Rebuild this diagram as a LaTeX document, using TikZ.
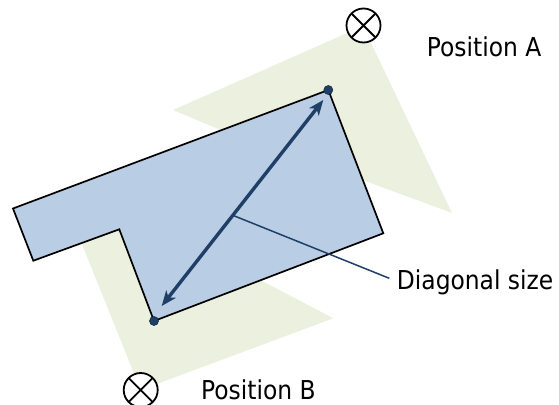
\documentclass[tikz,border=0pt]{standalone}
\usepackage{fontspec}
\setmainfont{DejaVu Sans Condensed}
\usepackage{xcolor}
\usetikzlibrary{arrows.meta}
\definecolor{roofblue}{HTML}{B9CDE5}
\definecolor{viewgreen}{HTML}{EBF1DE}
\definecolor{navy}{HTML}{1F3F66}

\begin{document}
\begin{tikzpicture}[
        x=1pt, y=-1pt,
        outline/.style={draw=black, line width=1.7pt, line join=miter},
        cone/.style={fill=viewgreen, draw=none},
        viewpoint/.style={circle, draw=black, fill=white, line width=1.8pt, minimum size=34pt, inner sep=0pt, outer sep=0pt},
        corner/.style={circle, fill=navy, draw=navy!70!black, line width=0.6pt, minimum size=9pt, inner sep=0pt},
        postext/.style={font=\fontsize{26}{30}\selectfont, inner sep=0pt},
        sizearrow/.style={navy, line width=3.4pt, {Stealth[length=15pt,width=12pt,inset=4pt]}-{Stealth[length=15pt,width=12pt,inset=4pt]}},
    ]
        \useasboundingbox (0,0) rectangle (559,404);

        % Viewing cones
        \fill[cone] (363,26) -- (452,213) -- (300,157) -- (260,146.5) -- (173,110) -- cycle;
        \fill[cone] (140.7,390) -- (333.3,318.3) -- (240,269.3) -- (120,215) -- (75,227) -- cycle;

        % Building outline
        \coordinate (p1) at (13,208.5);
        \coordinate (p2) at (33.3,260.7);
        \coordinate (p3) at (119.3,229.3);
        \coordinate (p4) at (154,321);
        \coordinate (p5) at (383.3,233.3);
        \coordinate (p6) at (328.3,90);
        \filldraw[outline, fill=roofblue] (p1) -- (p2) -- (p3) -- (p4) -- (p5) -- (p6) -- cycle;

        % Diagonal
        \coordinate (tipB) at (161.7,306);
        \coordinate (tipA) at (323.3,100);
        \coordinate (mid) at (233.3,215.5);
        \coordinate (leadend) at (389.3,278.3);
        \node[postext, anchor=base west] (diag) at (396.7,289) {Diagonal size};
        \draw[navy, line width=1.5pt] (mid) -- (leadend);
        \draw[sizearrow] (tipB) -- (tipA);
        \node[corner] (cornerA) at (p6) {};
        \node[corner] (cornerB) at (p4) {};

        % Camera positions
        \node[viewpoint] (camA) at (363.5,25.5) {};
        \draw[line width=1.8pt] (camA.north east) -- (camA.south west) (camA.north west) -- (camA.south east);
        \node[viewpoint] (camB) at (140.7,390) {};
        \draw[line width=1.8pt] (camB.north east) -- (camB.south west) (camB.north west) -- (camB.south east);
        \node[postext, anchor=base west] (labA) at (426.7,56.7) {Position A};
        \node[postext, anchor=base west] (labB) at (201,399) {Position B};
    \end{tikzpicture}
\end{document}
